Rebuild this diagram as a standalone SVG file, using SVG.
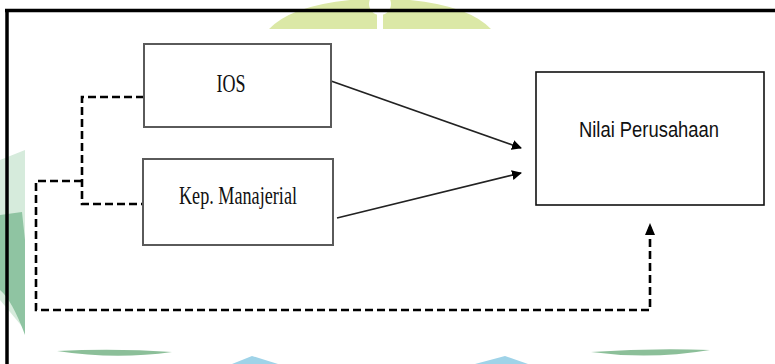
<svg xmlns="http://www.w3.org/2000/svg" width="775" height="364" viewBox="0 0 775 364">
  <style>
    .box { fill: #ffffff; stroke: #5a5a5a; stroke-width: 2; }
    .box2 { fill: #ffffff; stroke: #111111; stroke-width: 1.6; }
    .serif { font-family: "Liberation Serif", "Times New Roman", serif; font-size: 26px; fill: #111111; }
    .sans { font-family: "Liberation Sans", Arial, sans-serif; font-size: 22.5px; fill: #111111; }
    .solid { fill: none; stroke: #222222; stroke-width: 1.8; }
    .dash { fill: none; stroke: #000000; stroke-width: 2.6; stroke-dasharray: 8 4; }
  </style>
  <defs>
    <marker id="arrow" viewBox="0 0 10 10" refX="9" refY="5" markerWidth="10" markerHeight="10" markerUnits="userSpaceOnUse" orient="auto">
      <path d="M0,0 L10,5 L0,10 Z" fill="#000000"/>
    </marker>
    <marker id="arrowUp" viewBox="0 0 12 10" refX="11" refY="5" markerWidth="13" markerHeight="10" markerUnits="userSpaceOnUse" orient="auto">
      <path d="M0,0 L12,5 L0,10 Z" fill="#000000"/>
    </marker>
  </defs>

  <!-- background and watermark -->
  <rect x="0" y="0" width="775" height="364" fill="#ffffff"/>
  <g id="watermark">
    <path d="M268,30 Q290,6 350,0 L410,0 Q470,6 492,30 Z" fill="#dbe8a6"/>
    <circle cx="380" cy="4" r="11" fill="#ffffff"/>
    <rect x="377" y="10" width="6" height="20" fill="#ffffff"/>
    <path d="M0,160 L25,150 L25,330 L0,300 Z" fill="#d6ebdc"/>
    <path d="M0,215 L22,212 L25,240 L25,335 Q12,300 0,290 Z" fill="#8fc4a2"/>
    <path d="M57,351 Q115,348 172,352 Q115,360 57,351 Z" fill="#8cbf99"/>
    <path d="M591,352 Q650,348 710,350 Q650,360 591,352 Z" fill="#8cbf99"/>
    <path d="M232,364 L252,356 L278,364 Z" fill="#9fd3e8"/>
    <path d="M475,364 L505,356 L528,364 Z" fill="#9fd3e8"/>
  </g>
  <rect x="25" y="29" width="750" height="320" fill="#ffffff"/>

  <!-- outer frame -->
  <g id="frame">
    <line x1="5" y1="10.5" x2="775" y2="10.5" stroke="#000000" stroke-width="3.5"/>
    <line x1="7" y1="9" x2="7" y2="364" stroke="#000000" stroke-width="3.5"/>
  </g>

  <!-- connectors -->
  <g id="connectors">
    <line class="solid" x1="331" y1="81" x2="521" y2="148" marker-end="url(#arrow)"/>
    <line class="solid" x1="337" y1="218" x2="521" y2="173" marker-end="url(#arrow)"/>
    <path class="dash" d="M144,97 H82 V204 H143"/>
    <path class="dash" d="M82,181 H36 V310 H650 V224" marker-end="url(#arrowUp)"/>
  </g>

  <g id="node-ios">
    <rect class="box" x="144" y="44" width="187" height="83"/>
    <text class="serif" x="231" y="92" text-anchor="middle" textLength="29" lengthAdjust="spacingAndGlyphs">IOS</text>
  </g>

  <g id="node-kep">
    <rect class="box" x="143" y="159" width="190" height="86"/>
    <text class="serif" x="238" y="204" text-anchor="middle" textLength="118" lengthAdjust="spacingAndGlyphs">Kep. Manajerial</text>
  </g>

  <g id="node-nilai">
    <rect class="box2" x="536" y="72" width="228" height="133"/>
    <text class="sans" x="649" y="137" text-anchor="middle" textLength="140" lengthAdjust="spacingAndGlyphs">Nilai Perusahaan</text>
  </g>
</svg>
